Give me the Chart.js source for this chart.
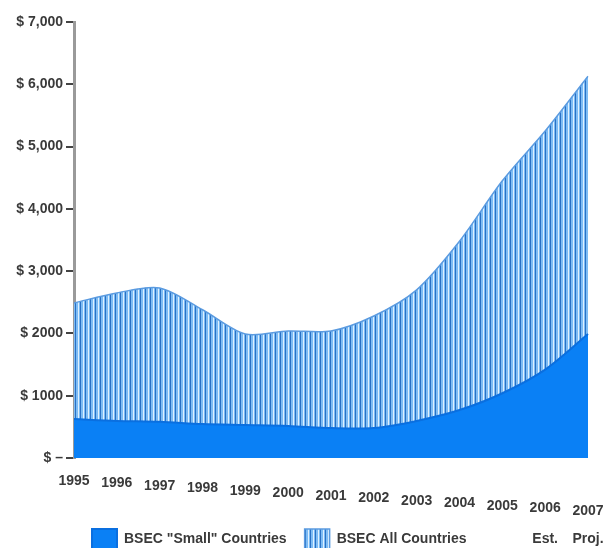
<!DOCTYPE html>
<html>
<head>
    <title>BSEC Countries</title>
    <script src="https://cdn.jsdelivr.net/npm/chart.js"></script>
    <style>
        body { margin: 0; background: #fff; }
        #wrap { width: 605px; height: 548px; }
    </style>
</head>
<body>
    <div id="wrap"><canvas id="bsecChart" width="605" height="548"></canvas></div>

    <script>
        // data
        const years = ['1995', '1996', '1997', '1998', '1999', '2000', '2001', '2002', '2003', '2004', '2005', '2006', '2007'];
        const yearNotes = ['', '', '', '', '', '', '', '', '', '', '', 'Est.', 'Proj.'];
        const smallCountries = [625, 595, 580, 545, 530, 515, 480, 480, 595, 770, 1040, 1420, 1990];
        const allCountries = [2490, 2650, 2730, 2380, 1990, 2040, 2040, 2280, 2700, 3480, 4450, 5250, 6130];
        const yTickLabels = ['$ \u2013', '$ 1000', '$ 2000', '$ 3,000', '$ 4,000', '$ 5,000', '$ 6,000', '$ 7,000'];

        const FONT = "'Liberation Sans', Arial, sans-serif";
        const TEXT = '#3a3a3a';

        function stripes() {
            const c = document.createElement('canvas');
            c.width = 5; c.height = 10;
            const g = c.getContext('2d');
            g.fillStyle = '#7dbcf4'; g.fillRect(0, 0, 5, 10);
            g.fillStyle = '#2a70c4'; g.fillRect(0, 0, 1, 10);
            g.fillStyle = '#dff0ff'; g.fillRect(3, 0, 1, 10);
            return g.createPattern(c, 'repeat');
        }

        // year labels step down a little, like the tilted floor in the original
        const yearLabels = {
            id: 'yearLabels',
            afterDraw(chart) {
                const ctx = chart.ctx;
                const x = chart.scales.x;
                const bottom = chart.chartArea.bottom;
                ctx.save();
                ctx.font = 'bold 14px ' + FONT;
                ctx.fillStyle = TEXT;
                ctx.textAlign = 'center';
                ctx.textBaseline = 'middle';
                years.forEach((y, i) => {
                    const px = x.getPixelForValue(i);
                    ctx.fillText(y, px, bottom + 23 + i * 2.5);
                    if (yearNotes[i]) ctx.fillText(yearNotes[i], px, bottom + 81);
                });
                ctx.restore();
            }
        };

        const ctx = document.getElementById('bsecChart').getContext('2d');
        const chart = new Chart(ctx, {
            type: 'line',
            data: {
                labels: years,
                datasets: [{
                    label: 'BSEC "Small" Countries',
                    data: smallCountries,
                    fill: 'origin',
                    backgroundColor: '#0a80f5',
                    borderColor: '#0a6fe0',
                    borderWidth: 2,
                    pointRadius: 0,
                    tension: 0.3
                }, {
                    label: 'BSEC All Countries',
                    data: allCountries,
                    fill: 'origin',
                    backgroundColor: stripes(),
                    borderColor: '#5b9be0',
                    borderWidth: 1.5,
                    pointRadius: 0,
                    tension: 0.3
                }]
            },
            options: {
                responsive: false,
                animation: false,
                layout: { padding: { top: 22, right: 17, bottom: -11 } },
                plugins: {
                    tooltip: { enabled: false },
                    legend: {
                        position: 'bottom',
                        align: 'start',
                        fullSize: false,
                        labels: {
                            boxWidth: 25,
                            boxHeight: 20,
                            padding: 18,
                            color: TEXT,
                            font: { family: FONT, size: 14, weight: 'bold' }
                        }
                    }
                },
                scales: {
                    x: {
                        offset: false,
                        grid: { display: false },
                        border: { display: false },
                        ticks: { display: false },
                        afterFit: s => { s.height = 53; }
                    },
                    y: {
                        min: 0,
                        max: 7000,
                        afterFit: s => { s.width = 74; },
                        ticks: {
                            stepSize: 1000,
                            padding: 3,
                            color: TEXT,
                            font: { family: FONT, size: 14, weight: 'bold' },
                            callback: (v, i) => yTickLabels[i]
                        },
                        grid: { drawOnChartArea: false, drawTicks: true, tickLength: 8, color: '#444', lineWidth: 2 },
                        border: { display: true, color: '#9a9a9a', width: 3 }
                    }
                }
            },
            plugins: [yearLabels]
        });
    </script>
</body>
</html>
